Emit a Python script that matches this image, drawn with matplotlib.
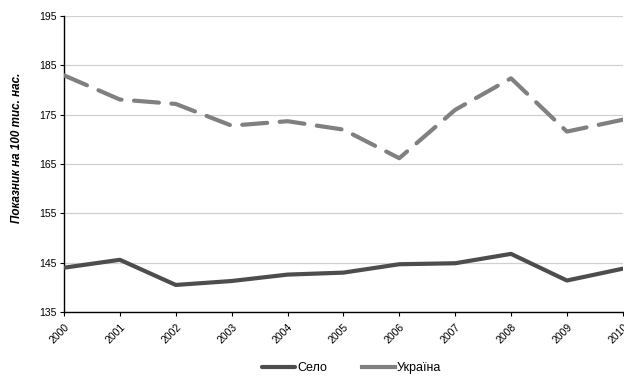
import matplotlib
matplotlib.use('Agg')
import matplotlib.pyplot as plt
from matplotlib import font_manager

# pick the regular-width Liberation Sans (avoid the Narrow variant)
fam = 'Liberation Sans'
for f in font_manager.fontManager.ttflist:
    if f.name == 'Liberation Sans' and 'Narrow' not in f.fname:
        font_manager.fontManager.addfont(f.fname)
        break
plt.rcParams['font.family'] = [fam, 'DejaVu Sans']
plt.rcParams['font.stretch'] = 'normal'

years = [2000, 2001, 2002, 2003, 2004, 2005, 2006, 2007, 2008, 2009, 2010]
selo = [144.0, 145.6, 140.5, 141.3, 142.6, 143.0, 144.7, 144.9, 146.8, 141.4, 143.8]
ukraine = [183.0, 178.1, 177.2, 172.8, 173.7, 172.0, 166.2, 176.0, 182.4, 171.6, 174.0]
yticks = [135, 145, 155, 165, 175, 185, 195]

fig = plt.figure(figsize=(6.24, 3.76), dpi=100)
ax = fig.add_axes([0.1026, 0.170, 0.8954, 0.787])

ax.plot(years, selo, color='#4d4d4d', lw=3, solid_capstyle='round',
        solid_joinstyle='round', label='Село', zorder=3)
ax.plot(years, ukraine, color='#808080', lw=3, dashes=(6, 3),
        dash_capstyle='round', dash_joinstyle='round', label='Україна', zorder=3)

ax.set_xlim(2000, 2010)
ax.set_ylim(135, 195)
ax.set_yticks(yticks)
ax.set_xticks(years)
ax.set_xticklabels([str(y) for y in years], rotation=45, ha='right',
                   rotation_mode='anchor')
ax.tick_params(labelsize=7.5, length=3, width=0.8, color='black', pad=2)
ax.tick_params(axis='x', pad=4)
ax.grid(axis='y', color='#d0d0d0', lw=0.9)
ax.set_axisbelow(True)
for s in ['top', 'right']:
    ax.spines[s].set_visible(False)
for s in ['left', 'bottom']:
    ax.spines[s].set_linewidth(1.0)

ax.set_ylabel('Показник на 100 тис. нас.', fontsize=8.4, style='italic',
              fontweight='bold')
ax.yaxis.set_label_coords(-0.073, 0.555)

leg = ax.legend(loc='center', bbox_to_anchor=(0.515, -0.19), ncol=2,
                frameon=False, fontsize=9, handlelength=2.6, handletextpad=0.2,
                columnspacing=2.8)
leg.get_lines()[1].set_linestyle('-')

fig.savefig('out.png', dpi=100)
